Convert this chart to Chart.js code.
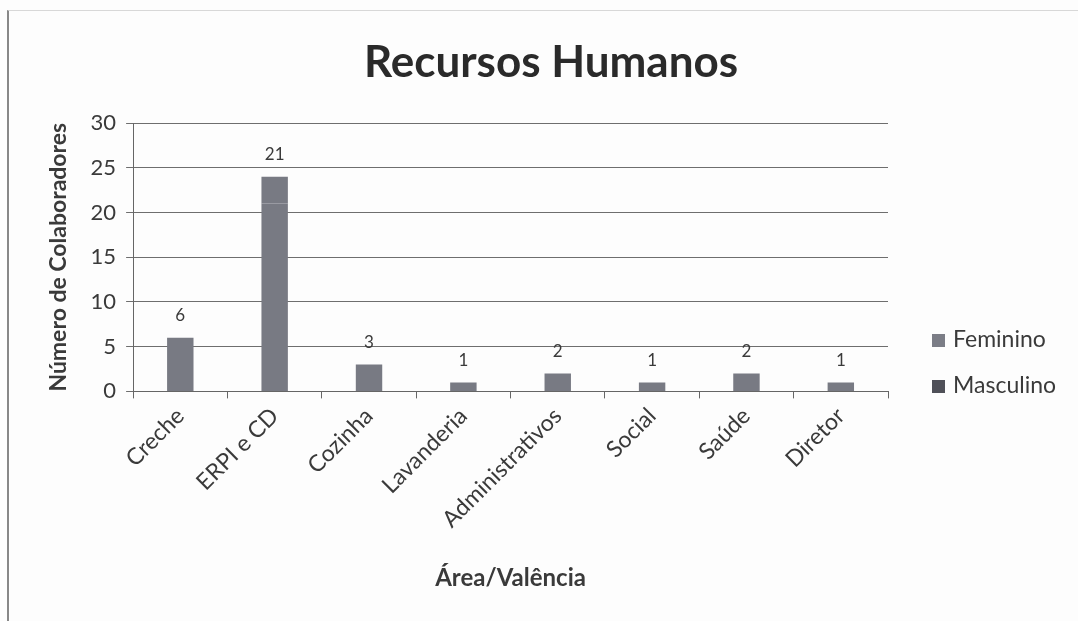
<!DOCTYPE html>
<html>
<head>
<meta charset="utf-8">
<script src="https://cdn.jsdelivr.net/npm/chart.js@4.4.1/dist/chart.umd.min.js"></script>
<style>
  html, body { margin: 0; padding: 0; background: #fdfdfd; }
  #wrap { position: relative; width: 1078px; height: 621px; }
  #frame { position: absolute; left: 7px; top: 10px; right: -2px; bottom: -2px; border-left: 2px solid #888; border-top: 1px solid #d8d8d8; pointer-events: none; }
  canvas { display: block; }
</style>
</head>
<body>
<div id="wrap"><canvas id="chart" width="1078" height="621"></canvas><div id="frame"></div></div>
<script>
// Chart data
const categories = ['Creche', 'ERPI e CD', 'Cozinha', 'Lavanderia', 'Administrativos', 'Social', 'Saúde', 'Diretor'];
const feminino = [6, 21, 3, 1, 2, 1, 2, 1];
const masculino = [0, 3, 0, 0, 0, 0, 0, 0];
const yTicks = [0, 5, 10, 15, 20, 25, 30];

const textColor = '#3a3a3a';
const font = 'Lato, "Open Sans", sans-serif';

// Chart title, centred over the whole figure
const titleText = {
    id: 'titleText',
    afterDraw(chart) {
        const ctx = chart.ctx;
        ctx.save();
        ctx.fillStyle = '#2a2a2a';
        ctx.font = 'bold 44px ' + font;
        ctx.textAlign = 'center';
        ctx.textBaseline = 'middle';
        ctx.fillText('Recursos Humanos', 551, 63);
        ctx.restore();
    }
};

// Labels above each bar (Feminino value)
const barLabels = {
    id: 'barLabels',
    afterDatasetsDraw(chart) {
        const ctx = chart.ctx;
        const yScale = chart.scales.y;
        const meta = chart.getDatasetMeta(0);
        ctx.save();
        ctx.fillStyle = textColor;
        ctx.font = '17px ' + font;
        ctx.textAlign = 'center';
        ctx.textBaseline = 'middle';
        meta.data.forEach((bar, i) => {
            const total = feminino[i] + masculino[i];
            const y = yScale.getPixelForValue(total);
            ctx.fillText(String(feminino[i]), bar.x, y - 22);
        });
        ctx.restore();
    }
};

// Simple legend on the right
const sideLegend = {
    id: 'sideLegend',
    afterDraw(chart) {
        const ctx = chart.ctx;
        ctx.save();
        ctx.font = '23px ' + font;
        ctx.textBaseline = 'middle';
        chart.data.datasets.forEach((ds, i) => {
            const y = 340 + i * 46;
            ctx.fillStyle = ds.legendColor;
            ctx.fillRect(932, y - 6, 13, 13);
            ctx.fillStyle = textColor;
            ctx.fillText(ds.label, 953, y);
        });
        ctx.restore();
    }
};

const ctx = document.getElementById('chart').getContext('2d');
new Chart(ctx, {
    type: 'bar',
    data: {
        labels: categories,
        datasets: [{
            label: 'Feminino',
            data: feminino,
            backgroundColor: '#787a83',
            legendColor: '#7b7d86',
            barPercentage: 0.28,
            categoryPercentage: 1
        }, {
            label: 'Masculino',
            data: masculino,
            backgroundColor: '#787a83',
            legendColor: '#4f5058',
            barPercentage: 0.28,
            categoryPercentage: 1
        }]
    },
    options: {
        responsive: false,
        animation: false,
        layout: { padding: { left: 41, right: 190, top: 123, bottom: 24 } },
        plugins: {
            legend: { display: false },
            tooltip: { enabled: false },
            title: { display: false }
        },
        scales: {
            x: {
                stacked: true,
                grid: { offset: true, drawOnChartArea: false, color: '#666', tickLength: 7 },
                border: { color: '#666' },
                ticks: { color: textColor, font: { family: font, size: 23 }, maxRotation: 45, minRotation: 45, padding: 4 },
                title: { display: true, text: 'Área/Valência', color: textColor, font: { family: font, size: 24, weight: 'bold' }, padding: { top: 27 } }
            },
            y: {
                stacked: true,
                min: 0,
                max: 30,
                afterBuildTicks(axis) { axis.ticks = yTicks.map(v => ({ value: v })); },
                grid: { color: '#6e6e6e', tickLength: 7 },
                border: { color: '#666' },
                ticks: { color: textColor, font: { family: font, size: 22 }, padding: 10 },
                title: { display: true, text: 'Número de Colaboradores', color: textColor, font: { family: font, size: 23, weight: 'bold' }, padding: { bottom: 8 } }
            }
        }
    },
    plugins: [titleText, barLabels, sideLegend]
});
</script>
</body>
</html>
